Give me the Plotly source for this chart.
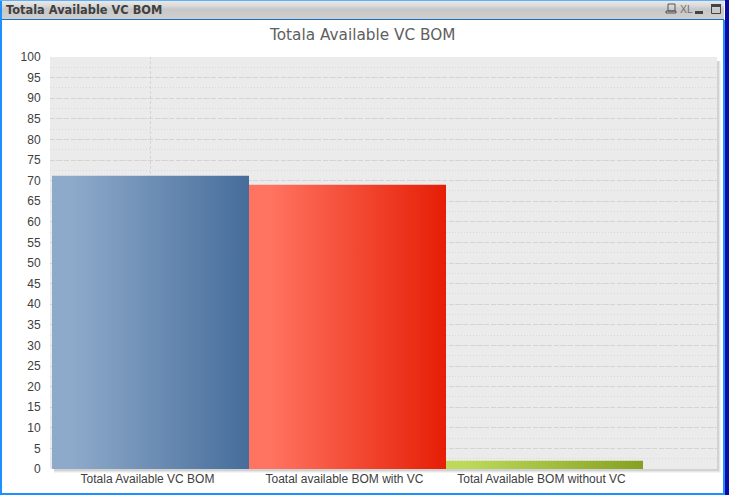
import plotly.graph_objects as go

TITLE = "Totala Available VC BOM"
categories = ["Totala Available VC BOM", "Toatal available BOM with VC", "Total Available BOM without VC"]
values = [71.2, 69.0, 2.0]
gradients = [("#8eaaca", "#466d9b"), ("#ff7461", "#e61e05"), ("#bcd95a", "#86a024")]
y_ticks = list(range(0, 101, 5))

W, H = 729, 495
L, R, T, B = 50, 717, 57, 469
X_MIN = -0.5 - 2 / 197
X_MAX = 2.5 + 74 / 197
LABEL_SHIFT = 3 / 197


def px(x):
    return (x - L) / (R - L)


def py(y):
    return (B - y) / (B - T)


def box(x0, y0, x1, y1, color, layer="below"):
    return dict(type="rect", xref="paper", yref="paper", x0=px(x0), x1=px(x1), y0=py(y0), y1=py(y1),
                fillcolor=color, line_width=0, layer=layer)


fig = go.Figure()

fig.add_bar(x=[0, 1, 2], y=values, width=1,
            marker=dict(color=[g[1] for g in gradients], line_width=0),
            showlegend=False, hoverinfo="x+y")

for i, (v, g) in enumerate(zip(values, gradients)):
    fig.add_scatter(x=[i - 0.5, i + 0.5, i + 0.5, i - 0.5, i - 0.5], y=[0, 0, v, v, 0],
                    mode="lines", line_width=0, fill="toself",
                    fillgradient=dict(type="horizontal", colorscale=[[0, g[0]], [0.1, g[0]], [1, g[1]]]),
                    showlegend=False, hoverinfo="skip")

shapes = []
# plot shadow: only outside the plot area
for k, c in enumerate(["#f4f4f4", "#e6e6e6", "#d2d2d2"]):
    o = 4 - k
    shapes.append(box(R, T + 4, R + o, B + o, c))
    shapes.append(box(L + 4, B, R + o, B + o, c))
# vertical guide at the first category
shapes.append(dict(type="line", xref="x", yref="paper", x0=0, x1=0, y0=0, y1=1, layer="below",
                   line=dict(color="#d4d4d4", width=1, dash="3px,2px")))
# window chrome
bar_rows = ["#e4e4e4", "#e6e6e6", "#e4e4e4", "#e1e1e1", "#dedede", "#dadada", "#d6d6d6", "#d0d0d0",
            "#cbcbcb", "#c8c8c8", "#c8c8c8", "#c9c9c9", "#cacaca", "#cbcbcb", "#cccccc", "#cdcdcd",
            "#cecece", "#cecece", "#cfcfcf"]
for r, c in enumerate(bar_rows):
    shapes.append(box(1, r, 724, r + 1, c))
shapes.append(box(1, 19, 724, 20, "#1b6fb8"))
shapes.append(box(0, 0, 2, 495, "#1e90ff"))
shapes.append(box(0, 493, 725, 495, "#1e90ff"))
shapes.append(box(723, 20, 725, 495, "#1e90ff"))
shapes.append(box(725, 0, 729, 495, "#0a0aa8"))
shapes.append(box(0, 0, 725, 1, "#5fb0f5"))
# caption icons
icon = "#555555"
shapes.append(dict(type="rect", xref="paper", yref="paper", x0=px(668), x1=px(675), y0=py(4), y1=py(11),
                   line=dict(color=icon, width=1), fillcolor="rgba(0,0,0,0)"))
shapes.append(dict(type="rect", xref="paper", yref="paper", x0=px(666), x1=px(676), y0=py(11), y1=py(13),
                   line=dict(color=icon, width=1), fillcolor="rgba(0,0,0,0)"))
shapes.append(box(695, 11, 703, 14, "#444444", "above"))
shapes.append(dict(type="rect", xref="paper", yref="paper", x0=px(711.5), x1=px(720.5), y0=py(4.5), y1=py(13.5),
                   line=dict(color="#444444", width=1), fillcolor="rgba(0,0,0,0)"))
shapes.append(box(711, 4, 721, 7, "#444444", "above"))

fig.update_layout(
    width=W, height=H, autosize=False,
    margin=dict(l=L, r=W - R, t=T, b=H - B, pad=0),
    paper_bgcolor="white", plot_bgcolor="#ebebeb",
    bargap=0, shapes=shapes,
    font=dict(family="Liberation Sans", size=12, color="#404040"),
    xaxis=dict(range=[X_MIN, X_MAX], tickmode="array", tickvals=[i - LABEL_SHIFT for i in range(3)], ticktext=categories,
               automargin=False, ticklabelstandoff=-2,
               showgrid=False, zeroline=False, showline=False, ticks="outside", ticklen=1,
               tickcolor="rgba(0,0,0,0)", tickfont=dict(size=12, color="#404040")),
    yaxis=dict(range=[0, 100], tickmode="array", tickvals=y_ticks, showgrid=True, automargin=False,
               gridcolor="#d4d4d4", griddash="5px,2px", gridwidth=1, zeroline=False, showline=False,
               ticks="outside", ticklen=6, tickcolor="rgba(0,0,0,0)", tickfont=dict(size=12, color="#404040"),
               minor=dict(dtick=2.5, tick0=0, showgrid=True, gridcolor="#d8d8d8", griddash="1px,2px", gridwidth=1)),
    annotations=[
        dict(text=TITLE, xref="paper", yref="paper", x=px(362.5), y=py(35), xanchor="center", yanchor="middle",
             showarrow=False, font=dict(family="DejaVu Sans", size=15.3, color="#606060")),
        dict(text="<b>" + TITLE + "</b>", xref="paper", yref="paper", x=px(4), y=py(9.5), xanchor="left", yanchor="middle",
             showarrow=False, font=dict(family="DejaVu Sans", size=11.4, color="#404040")),
        dict(text="XL", xref="paper", yref="paper", x=px(686), y=py(8.5), xanchor="center", yanchor="middle",
             showarrow=False, font=dict(family="Liberation Sans", size=10.5, color="#707070")),
    ],
)
fig.write_html("out.html", config={"displayModeBar": False, "responsive": False},
               post_script="document.body.style.margin='0';document.body.style.overflow='hidden';")
